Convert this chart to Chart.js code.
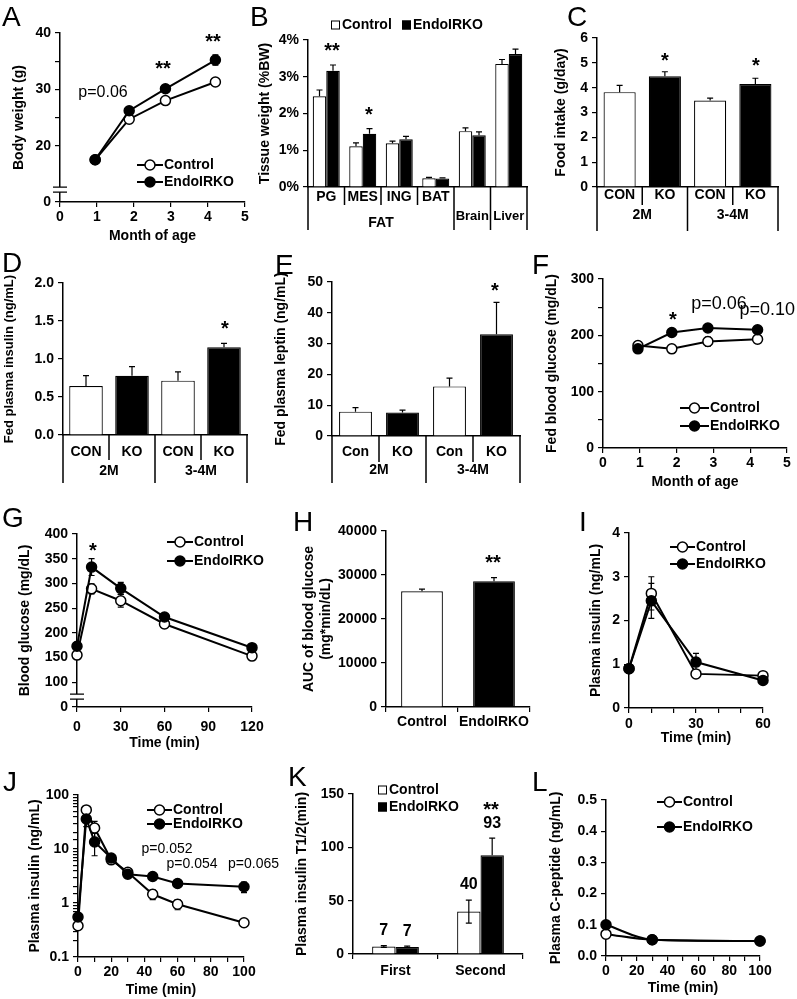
<!DOCTYPE html>
<html>
<head>
<meta charset="utf-8">
<title>EndoIRKO panels</title>
<script src="https://cdn.jsdelivr.net/npm/chart.js@4.4.1/dist/chart.umd.min.js"></script>
<style>
  html, body { margin: 0; padding: 0; background: #fff; }
  #page { position: relative; width: 797px; height: 999px; overflow: hidden; background: #fff; }
  #page canvas { position: absolute; left: 0; top: 0; }
  .tag { position: absolute; font: 28px "Liberation Sans", Arial, sans-serif; line-height: 28px; color: #000; }
</style>
</head>
<body>
<div id="page"></div>
<script>
// ---- data ----

// A: body weight
const aMonth = [0.95, 1.87, 2.85, 4.2];
const aControl = [17.5, 24.7, 28.0, 31.3];
const aControlErr = [0.4, 0.4, 0.4, 0.6];
const aEndo = [17.5, 26.2, 30.1, 35.2];
const aEndoErr = [0.4, 0.5, 0.4, 0.9];

// B: tissue weight (%BW)
const bTissues = ['PG', 'MES', 'ING', 'BAT', 'Brain', 'Liver'];
const bControl = [2.47, 1.11, 1.19, 0.24, 1.52, 3.35];
const bControlErr = [0.17, 0.09, 0.06, 0.02, 0.09, 0.12];
const bEndo = [3.16, 1.45, 1.30, 0.23, 1.41, 3.62];
const bEndoErr = [0.16, 0.14, 0.08, 0.02, 0.09, 0.13];

// C: food intake
const cCats = ['CON', 'KO', 'CON', 'KO'];
const ages = ['2M', '3-4M'];
const cControl = [3.82, 3.48];
const cControlErr = [0.27, 0.10];
const cKO = [4.46, 4.15];
const cKOErr = [0.18, 0.23];

// D: fed plasma insulin
const dControl = [0.645, 0.715];
const dControlErr = [0.135, 0.115];
const dKO = [0.78, 1.155];
const dKOErr = [0.12, 0.05];

// E: fed plasma leptin
const eCats = ['Con', 'KO', 'Con', 'KO'];
const eControl = [7.9, 16.1];
const eControlErr = [1.3, 2.7];
const eKO = [7.6, 33.0];
const eKOErr = [0.8, 10.4];

// F: fed blood glucose
const fMonth = [0.95, 1.87, 2.85, 4.2];
const fControl = [182, 176, 189, 193];
const fControlErr = [6, 7, 8, 7];
const fEndo = [176, 205, 213, 210];
const fEndoErr = [5, 5, 4, 4];

// G: GTT
const gTime = [0, 10, 30, 60, 120];
const gControl = [155, 289, 265, 218, 153];
const gControlErr = [8, 10, 13, 8, 6];
const gEndo = [173, 333, 290, 232, 170];
const gEndoErr = [8, 17, 12, 7, 6];

// H: AUC
const hCats = ['Control', 'EndoIRKO'];
const hAuc = [26300, 28600];
const hAucErr = [500, 800];

// I: plasma insulin during GTT
const iTime = [0, 10, 30, 60];
const iControl = [0.9, 2.62, 0.78, 0.74];
const iControlErr = [0.08, 0.38, 0.06, 0.06];
const iEndo = [0.9, 2.45, 1.05, 0.63];
const iEndoErr = [0.08, 0.4, 0.2, 0.06];

// J: insulin clearance (log)
const jTime = [0, 5, 10, 20, 30, 45, 60, 100];
const jControl = [0.38, 53, 24.5, 6.3, 3.7, 1.45, 0.95, 0.43];
const jControlErr = [0.04, 6, 8, 0.6, 0.4, 0.3, 0.2, 0.04];
const jEndo = [0.55, 36, 13.5, 6.8, 3.4, 3.1, 2.3, 2.0];
const jEndoErr = [0.06, 10, 6, 0.8, 0.5, 0.4, 0.3, 0.45];

// K: insulin half-life
const kPhases = ['First', 'Second'];
const kControl = [7.1, 39.8];
const kControlErr = [0.8, 10.8];
const kEndo = [6.6, 92.6];
const kEndoErr = [0.7, 16];

// L: C-peptide
const lTime = [0, 30, 100];
const lControl = [0.07, 0.052, 0.048];
const lEndo = [0.1, 0.052, 0.048];

// ---- helpers ----
const W = 797, H = 999;
const FONT = '"Liberation Sans", Arial, Helvetica, sans-serif';
Chart.defaults.font.family = FONT;
Chart.defaults.color = '#000';
const page = document.getElementById('page');

const interleave = (a, b) => a.flatMap((v, i) => [v, b[i]]);
const pairColors = n => Array.from({ length: n }, (_, i) => i % 2 ? '#000' : '#fff');

function lineSet(label, xs, ys, errs, filled) {
  return {
    label, data: xs.map((x, i) => ({ x, y: ys[i] })), errors: errs,
    borderColor: '#000', borderWidth: 2, pointRadius: 5,
    pointBackgroundColor: filled ? '#000' : '#fff', pointBorderColor: '#000', pointBorderWidth: 1.5,
    order: filled ? 0 : 1, clip: false, tension: 0
  };
}

function barSet(label, data, errs, color, pct) {
  return {
    label, data, errors: errs, backgroundColor: color, borderColor: '#000', borderWidth: 1.2,
    categoryPercentage: pct, barPercentage: 1
  };
}

function drawErrors(chart) {
  const ctx = chart.ctx, ys = chart.scales.y;
  const isLine = chart.config.type === 'line';
  ctx.save();
  ctx.strokeStyle = '#000';
  ctx.lineWidth = 1.2;
  chart.data.datasets.forEach((ds, di) => {
    if (!ds.errors) return;
    chart.getDatasetMeta(di).data.forEach((el, i) => {
      const e = ds.errors[i];
      if (!e) return;
      const raw = ds.data[i];
      const v = typeof raw === 'object' ? raw.y : raw;
      const both = isLine || ds.errDir === 'both';
      const top = ys.getPixelForValue(v + e);
      const bot = both ? ys.getPixelForValue(Math.max(v - e, ys.min)) : el.y;
      ctx.beginPath();
      ctx.moveTo(el.x, top); ctx.lineTo(el.x, bot);
      ctx.moveTo(el.x - 3, top); ctx.lineTo(el.x + 3, top);
      if (both) { ctx.moveTo(el.x - 3, bot); ctx.lineTo(el.x + 3, bot); }
      ctx.stroke();
    });
  });
  ctx.restore();
}

function drawText(ctx, t) {
  const size = t.size || 20;
  ctx.font = (t.bold === false ? 'normal ' : 'bold ') + size + 'px ' + FONT;
  ctx.textAlign = t.align || 'center';
  ctx.textBaseline = 'middle';
  ctx.fillStyle = '#000';
  const star = /^\*+$/.test(t.t);
  ctx.fillText(t.t, t.x, t.y + (star ? size * 0.23 : 0));
}

const decor = {
  id: 'decor',
  beforeDatasetsDraw(chart) { if (chart.config.type === 'line') drawErrors(chart); },
  afterDatasetsDraw(chart) { if (chart.config.type !== 'line') drawErrors(chart); },
  afterDraw(chart) {
    const o = chart.canvas.decor, ctx = chart.ctx, area = chart.chartArea;
    ctx.save();
    // broken y axis
    if (o.breakAt !== undefined) {
      const y = chart.scales.y.getPixelForValue(o.breakAt), x = area.left;
      ctx.fillStyle = '#fff';
      ctx.fillRect(x - 7, y - 2.5, 14, 5);
      ctx.strokeStyle = '#000'; ctx.lineWidth = 1.2;
      ctx.beginPath();
      ctx.moveTo(x - 7, y - 2.5); ctx.lineTo(x + 7, y - 2.5);
      ctx.moveTo(x - 7, y + 2.5); ctx.lineTo(x + 7, y + 2.5);
      ctx.stroke();
    }
    // grouped category axis
    if (o.cats) {
      const xs = chart.scales.x, b = area.bottom, n = chart.data.labels.length;
      const cw = (xs.right - xs.left) / n;
      const starts = new Set(o.cats.groups.map(g => g.from));
      ctx.strokeStyle = '#000'; ctx.lineWidth = 1.5;
      ctx.beginPath();
      for (let i = 0; i <= n; i++) {
        const x = xs.left + i * cw;
        const full = i === 0 || i === n || starts.has(i);
        ctx.moveTo(x, b); ctx.lineTo(x, b + (full ? o.cats.long : o.cats.short));
      }
      ctx.stroke();
      o.cats.groups.forEach(g => drawText(ctx, {
        t: g.text, x: xs.left + (g.from + g.to + 1) / 2 * cw,
        y: b + (g.dy !== undefined ? g.dy : o.cats.row2), size: g.size || 14
      }));
    }
    // legend
    if (o.legend) {
      const lg = o.legend;
      lg.items.forEach(it => {
        const ds = chart.data.datasets[it.ds];
        const x = it.x !== undefined ? it.x : lg.x;
        let tx;
        if (lg.kind === 'line') {
          ctx.strokeStyle = '#000'; ctx.lineWidth = ds.borderWidth;
          ctx.beginPath(); ctx.moveTo(x, it.y); ctx.lineTo(x + lg.len, it.y); ctx.stroke();
          ctx.beginPath(); ctx.arc(x + lg.len / 2, it.y, ds.pointRadius, 0, Math.PI * 2);
          ctx.fillStyle = ds.pointBackgroundColor; ctx.fill();
          ctx.lineWidth = ds.pointBorderWidth; ctx.stroke();
          tx = x + lg.len + 1;
        } else {
          const c = Array.isArray(ds.backgroundColor) ? ds.backgroundColor[0] : ds.backgroundColor;
          ctx.fillStyle = c; ctx.fillRect(x, it.y - 4.5, 9, 9);
          ctx.strokeStyle = '#000'; ctx.lineWidth = 1; ctx.strokeRect(x + 0.5, it.y - 4, 8, 8);
          tx = x + 11;
        }
        drawText(ctx, { t: ds.label, x: tx, y: it.y, size: 14, align: 'left' });
      });
    }
    // numbers over bars (K)
    if (o.valueLabels) {
      const ys = chart.scales.y;
      chart.data.datasets.forEach((ds, di) => {
        chart.getDatasetMeta(di).data.forEach((el, i) => {
          const v = ds.data[i];
          const top = ys.getPixelForValue(v + (ds.errors ? ds.errors[i] : 0));
          drawText(ctx, { t: String(Math.round(v)), x: el.x, y: top - o.valueLabels.offset, size: 16 });
        });
      });
    }
    (o.texts || []).forEach(t => drawText(ctx, t));
    ctx.restore();
  }
};

function scaleOpts(o) {
  const s = {
    type: o.type || 'linear',
    border: { display: true, color: '#000', width: 1.5 },
    grid: o.marks === false
      ? { display: false, drawTicks: false }
      : { display: true, drawOnChartArea: false, drawTicks: true, tickLength: 5, color: '#000', lineWidth: 1.2 },
    ticks: { color: '#000', font: { size: 14, weight: 'bold' }, padding: o.pad !== undefined ? o.pad : 4,
             autoSkip: false, maxRotation: 0, minRotation: 0 },
    title: o.title
      ? { display: true, text: o.title, color: '#000', font: { size: o.titleSize || 14, weight: 'bold' }, padding: 0 }
      : { display: false }
  };
  if (o.min !== undefined) s.min = o.min;
  if (o.max !== undefined) s.max = o.max;
  if (o.step) s.ticks.stepSize = o.step;
  if (o.label) s.ticks.callback = o.label;
  if (o.at) s.afterBuildTicks = sc => { sc.ticks = o.at.map(v => ({ value: v })); };
  return s;
}

// every panel is a full-page transparent canvas; padding puts the plot area where it sits in the figure
function makeChart(p) {
  const cv = document.createElement('canvas');
  cv.width = W; cv.height = H;
  cv.style.width = W + 'px'; cv.style.height = H + 'px';
  page.appendChild(cv);
  cv.decor = p.decor || {};
  const yLh = (p.y.titleSize || 14) * 1.2;
  const padLeft = p.y.titleX - yLh / 2;
  const yW = p.area.l - padLeft;
  const xH = p.x.titleY ? p.x.titleY - p.area.b + (p.x.titleSize || 14) * 0.6 : 40;
  const xs = scaleOpts(p.x), ys = scaleOpts(p.y);
  xs.afterFit = s => { s.height = xH; };
  ys.afterFit = s => { s.width = yW; };
  return new Chart(cv, {
    type: p.type,
    data: p.data,
    options: {
      responsive: false, animation: false, devicePixelRatio: 1,
      layout: { padding: { left: padLeft, top: p.area.t, right: W - p.area.r, bottom: Math.max(0, H - p.area.b - xH) } },
      plugins: { legend: { display: false }, tooltip: { enabled: false } },
      scales: { x: xs, y: ys }
    },
    plugins: [decor]
  });
}

const every = (step, fmt) => v => (Math.abs(v / step - Math.round(v / step)) < 1e-6 ? (fmt ? fmt(v) : String(v)) : '');
const ageGroups = [{ from: 0, to: 1, text: ages[0] }, { from: 2, to: 3, text: ages[1] }];

// A
makeChart({
  type: 'line', area: { l: 60, t: 33, r: 245, b: 202 },
  data: { datasets: [lineSet('Control', aMonth, aControl, aControlErr, false), lineSet('EndoIRKO', aMonth, aEndo, aEndoErr, true)] },
  x: { min: 0, max: 5, step: 1, pad: 2, title: 'Month of age', titleY: 236 },
  y: { min: 10, max: 40, at: [10, 20, 25, 30, 35, 40], label: v => (v === 10 ? '0' : every(10)(v)), title: 'Body weight (g)', titleX: 19 },
  decor: {
    breakAt: 12.2,
    legend: { kind: 'line', x: 137, len: 26, items: [{ ds: 0, y: 165 }, { ds: 1, y: 182 }] },
    texts: [{ t: 'p=0.06', x: 103, y: 93, size: 16, bold: false }, { t: '**', x: 163, y: 65 }, { t: '**', x: 213, y: 38 }]
  }
});

// B
makeChart({
  type: 'bar', area: { l: 308, t: 40, r: 527, b: 187 },
  data: { labels: bTissues, datasets: [barSet('Control', bControl, bControlErr, '#fff', 0.74), barSet('EndoIRKO', bEndo, bEndoErr, '#000', 0.74)] },
  x: { type: 'category', marks: false, pad: 1.6, label: function (v) { const s = this.getLabelForValue(v); return s === 'Brain' || s === 'Liver' ? '' : s; } },
  y: { min: 0, max: 4, step: 1, label: v => v + '%', title: 'Tissue weight (%BW)', titleX: 265 },
  decor: {
    cats: { short: 18, long: 43, row2: 36, groups: [{ from: 0, to: 3, text: 'FAT' }, { from: 4, to: 4, text: bTissues[4], dy: 29, size: 13 }, { from: 5, to: 5, text: bTissues[5], dy: 29, size: 13 }] },
    legend: { kind: 'box', items: [{ ds: 0, x: 331, y: 25 }, { ds: 1, x: 402, y: 25 }] },
    texts: [{ t: '**', x: 332, y: 47 }, { t: '*', x: 369, y: 111 }]
  }
});

// C
makeChart({
  type: 'bar', area: { l: 597, t: 38, r: 778, b: 187 },
  data: { labels: cCats, datasets: [barSet('Food intake', interleave(cControl, cKO), interleave(cControlErr, cKOErr), pairColors(4), 0.71)] },
  x: { type: 'category', marks: false, pad: 0 },
  y: { min: 0, max: 6, step: 1, title: 'Food intake (g/day)', titleX: 561 },
  decor: { cats: { short: 18, long: 44, row2: 28, groups: ageGroups }, texts: [{ t: '*', x: 665, y: 57 }, { t: '*', x: 756, y: 62 }] }
});

// D
makeChart({
  type: 'bar', area: { l: 63, t: 283, r: 247, b: 435 },
  data: { labels: cCats, datasets: [barSet('Fed insulin', interleave(dControl, dKO), interleave(dControlErr, dKOErr), pairColors(4), 0.73)] },
  x: { type: 'category', marks: false, pad: 8.6 },
  y: { min: 0, max: 2, step: 0.5, label: v => v.toFixed(1), title: 'Fed plasma insulin (ng/mL)', titleSize: 13, titleX: 9 },
  decor: { cats: { short: 25, long: 48, row2: 36, groups: ageGroups }, texts: [{ t: '*', x: 225, y: 325 }] }
});

// E
makeChart({
  type: 'bar', area: { l: 332, t: 282, r: 520, b: 436 },
  data: { labels: eCats, datasets: [barSet('Fed leptin', interleave(eControl, eKO), interleave(eControlErr, eKOErr), pairColors(4), 0.70)] },
  x: { type: 'category', marks: false, pad: 7.6 },
  y: { min: 0, max: 50, step: 10, title: 'Fed plasma leptin (ng/mL)', titleX: 281 },
  decor: { cats: { short: 26, long: 47, row2: 34, groups: ageGroups }, texts: [{ t: '*', x: 495, y: 287 }] }
});

// F
makeChart({
  type: 'line', area: { l: 603, t: 279, r: 787, b: 448 },
  data: { datasets: [lineSet('Control', fMonth, fControl, fControlErr, false), lineSet('EndoIRKO', fMonth, fEndo, fEndoErr, true)] },
  x: { min: 0, max: 5, step: 1, pad: 2, title: 'Month of age', titleY: 482 },
  y: { min: 0, max: 300, step: 50, label: every(100), title: 'Fed blood glucose (mg/dL)', titleX: 552 },
  decor: {
    legend: { kind: 'line', x: 680, len: 29, items: [{ ds: 0, y: 408 }, { ds: 1, y: 426 }] },
    texts: [{ t: '*', x: 673, y: 316 }, { t: 'p=0.06', x: 719, y: 304, size: 18, bold: false }, { t: 'p=0.10', x: 795, y: 310, size: 18, bold: false, align: 'right' }]
  }
});

// G
makeChart({
  type: 'line', area: { l: 77, t: 534, r: 252, b: 707 },
  data: { datasets: [lineSet('Control', gTime, gControl, gControlErr, false), lineSet('EndoIRKO', gTime, gEndo, gEndoErr, true)] },
  x: { min: 0, max: 120, step: 30, pad: 6.6, title: 'Time (min)', titleY: 743 },
  y: { min: 50, max: 400, step: 50, label: v => (v === 50 ? '0' : String(v)), title: 'Blood glucose (mg/dL)', titleX: 25 },
  decor: {
    breakAt: 71,
    legend: { kind: 'line', x: 167, len: 26, items: [{ ds: 0, y: 542 }, { ds: 1, y: 561 }] },
    texts: [{ t: '*', x: 93, y: 547 }]
  }
});

// H
makeChart({
  type: 'bar', area: { l: 386, t: 531, r: 530, b: 707 },
  data: { labels: hCats, datasets: [barSet('AUC', hAuc, hAucErr, pairColors(2), 0.58)] },
  x: { type: 'category', pad: 1.6 },
  y: { min: 0, max: 40000, step: 10000, label: v => String(v), title: ['AUC of blood glucose', '(mg*min/dL)'], titleX: 309 },
  decor: { texts: [{ t: '**', x: 493, y: 559 }] }
});

// I
makeChart({
  type: 'line', area: { l: 629, t: 533, r: 763, b: 708 },
  data: { datasets: [lineSet('Control', iTime, iControl, iControlErr, false), lineSet('EndoIRKO', iTime, iEndo, iEndoErr, true)] },
  x: { min: 0, max: 60, step: 10, pad: 2.6, label: every(30), title: 'Time (min)', titleY: 738 },
  y: { min: 0, max: 4, step: 1, title: 'Plasma insulin (ng/mL)', titleX: 596 },
  decor: { legend: { kind: 'line', x: 670, len: 25, items: [{ ds: 0, y: 547 }, { ds: 1, y: 564 }] } }
});

// J
makeChart({
  type: 'line', area: { l: 78, t: 795, r: 244, b: 957 },
  data: { datasets: [lineSet('Control', jTime, jControl, jControlErr, false), lineSet('EndoIRKO', jTime, jEndo, jEndoErr, true)] },
  x: { min: 0, max: 100, step: 10, pad: 1.6, label: every(20), title: 'Time (min)', titleY: 990 },
  y: {
    type: 'logarithmic', min: 0.1, max: 100,
    label: v => { const l = Math.log10(v); return Math.abs(l - Math.round(l)) < 1e-6 ? (v < 1 ? v.toFixed(1) : String(Math.round(v))) : ''; },
    title: 'Plasma insulin (ng/mL)', titleX: 35
  },
  decor: {
    legend: { kind: 'line', x: 147, len: 25, items: [{ ds: 0, y: 810 }, { ds: 1, y: 824 }] },
    texts: [
      { t: 'p=0.052', x: 167, y: 849, size: 14, bold: false },
      { t: 'p=0.054', x: 192, y: 864, size: 14, bold: false },
      { t: 'p=0.065', x: 228, y: 864, size: 14, bold: false, align: 'left' }
    ]
  }
});

// K
const kControlSet = barSet('Control', kControl, kControlErr, '#fff', 0.55);
kControlSet.errDir = 'both';
makeChart({
  type: 'bar', area: { l: 353, t: 794, r: 523, b: 954 },
  data: { labels: kPhases, datasets: [kControlSet, barSet('EndoIRKO', kEndo, kEndoErr, '#000', 0.55)] },
  x: { type: 'category', pad: 3.6 },
  y: { min: 0, max: 150, step: 50, title: 'Plasma insulin T1/2(min)', titleX: 302 },
  decor: {
    legend: { kind: 'box', items: [{ ds: 0, x: 378, y: 790 }, { ds: 1, x: 378, y: 807 }] },
    valueLabels: { offset: 15 },
    texts: [{ t: '**', x: 491, y: 806 }]
  }
});

// L
const lC = lineSet('Control', lTime, lControl, null, false);
const lE = lineSet('EndoIRKO', lTime, lEndo, null, true);
[lC, lE].forEach(d => { d.tension = 0.4; d.cubicInterpolationMode = 'monotone'; });
makeChart({
  type: 'line', area: { l: 606, t: 800, r: 760, b: 956 },
  data: { datasets: [lC, lE] },
  x: { min: 0, max: 100, step: 10, pad: 1.6, label: every(20), title: 'Time (min)', titleY: 988 },
  y: { min: 0, max: 0.5, step: 0.1, label: v => v.toFixed(1), title: 'Plasma C-peptide (ng/mL)', titleX: 556 },
  decor: { legend: { kind: 'line', x: 657, len: 25, items: [{ ds: 0, y: 802 }, { ds: 1, y: 827 }] } }
});

// panel letters
const letters = [['A', 2, 27], ['B', 250, 27], ['C', 567, 27], ['D', 2, 273], ['E', 275, 275], ['F', 532, 275],
                 ['G', 2, 528], ['H', 293, 532], ['I', 579, 532], ['J', 3, 792], ['K', 288, 787], ['L', 532, 792]];
letters.forEach(([t, x, base]) => {
  const d = document.createElement('div');
  d.className = 'tag';
  d.textContent = t;
  d.style.left = x + 'px';
  d.style.top = (base - 23.7) + 'px';
  page.appendChild(d);
});
</script>
</body>
</html>
